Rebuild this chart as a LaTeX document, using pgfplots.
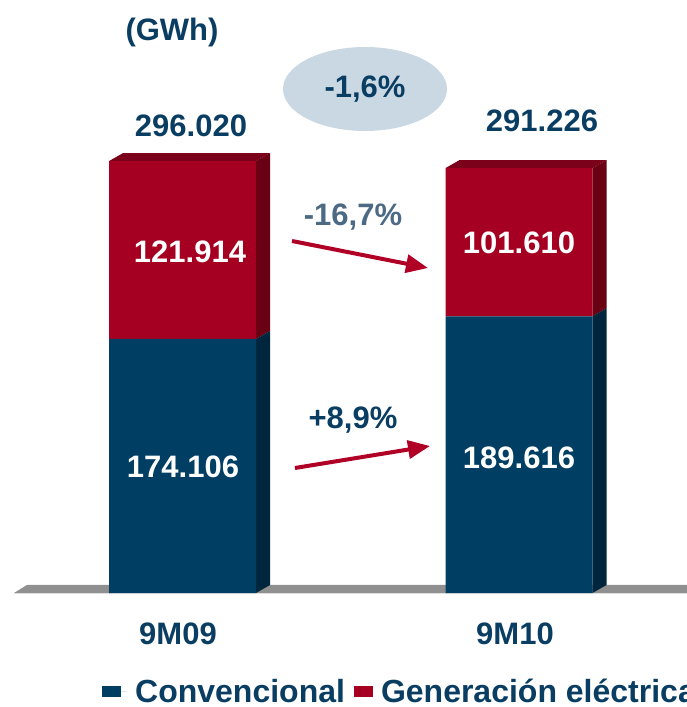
\documentclass[border=0pt]{standalone}
\usepackage{pgfplots}
\pgfplotsset{compat=1.18}
\usetikzlibrary{arrows.meta}
\usepackage{fontspec}
\setmainfont{Liberation Sans}
\definecolor{cblue}{HTML}{003E64}
\definecolor{cblueside}{HTML}{00263E}
\definecolor{cred}{HTML}{A50021}
\definecolor{credside}{HTML}{6A0014}
\definecolor{credtop}{HTML}{7B0019}
\definecolor{ctext}{HTML}{0A3D62}
\definecolor{cgray}{HTML}{4C6A84}
\definecolor{cell}{HTML}{C9D8E2}
\definecolor{carrow}{HTML}{B10026}
\definecolor{cfloor}{HTML}{909090}
\newcommand\bigf{\fontsize{31}{36}\selectfont\bfseries}
\newcommand\legf{\fontsize{32}{37}\selectfont\bfseries}
\begin{document}
\begin{tikzpicture}
\useasboundingbox (0,0) rectangle (686pt,707pt);
% floor
\begin{scope}[x=1pt,y=-1pt,shift={(0pt,707pt)}]
\fill[cfloor] (14,593) -- (27,585) -- (700,585) -- (700,593) -- cycle;
\fill[black!12] (14,593) rectangle (700,594.5);
\end{scope}
\begin{axis}[at={(0pt,0pt)}, anchor=south west, scale only axis,
  width=686pt, height=707pt,
  xmin=-0.54235, xmax=1.49629, ymin=-78.13, ymax=406.44,
  hide axis, clip=false,
  ybar stacked, bar width=147pt,
  legend columns=2,
  legend style={at={(0.1487,0.0215)}, anchor=west, draw=none, fill=none,
    font=\legf, text=ctext, inner sep=0pt,
    nodes={inner sep=0pt},
    /tikz/every odd column/.append style={column sep=8pt},
    /tikz/every even column/.append style={column sep=9pt}},
]
\addplot[fill=cblue, draw=none,
  legend image code/.code={\fill[cblue] (0pt,-5.5pt) rectangle (19pt,5.5pt); \path (0pt,0pt) -- (25pt,0pt);}]
  coordinates {(0,174.106) (1,189.616)};
\addlegendentry{Convencional}
\addplot[fill=cred, draw=none,
  legend image code/.code={\fill[cred] (0pt,-5.5pt) rectangle (19pt,5.5pt);}]
  coordinates {(0,121.914) (1,101.610)};
\addlegendentry{Generación eléctrica}
% 3D faces, bar 9M09
\fill[cblueside] ([xshift=73.5pt]axis cs:0,0) -- ([xshift=73.5pt]axis cs:0,174.106) -- ++(14pt,8pt) -- ([xshift=87.5pt,yshift=8pt]axis cs:0,0) -- cycle;
\fill[credside] ([xshift=73.5pt]axis cs:0,174.106) -- ([xshift=73.5pt]axis cs:0,296.020) -- ++(14pt,8pt) -- ([xshift=87.5pt,yshift=8pt]axis cs:0,174.106) -- cycle;
\fill[credtop] ([xshift=-73.5pt]axis cs:0,296.020) -- ++(14pt,8pt) -- ++(147pt,0pt) -- ++(-14pt,-8pt) -- cycle;
% 3D faces, bar 9M10
\fill[cblueside] ([xshift=73.5pt]axis cs:1,0) -- ([xshift=73.5pt]axis cs:1,189.616) -- ++(14pt,8pt) -- ([xshift=87.5pt,yshift=8pt]axis cs:1,0) -- cycle;
\fill[credside] ([xshift=73.5pt]axis cs:1,189.616) -- ([xshift=73.5pt]axis cs:1,291.226) -- ++(14pt,8pt) -- ([xshift=87.5pt,yshift=8pt]axis cs:1,189.616) -- cycle;
\fill[credtop] ([xshift=-73.5pt]axis cs:1,291.226) -- ++(14pt,8pt) -- ++(147pt,0pt) -- ++(-14pt,-8pt) -- cycle;
\end{axis}
\begin{scope}[x=1pt,y=-1pt,shift={(0pt,707pt)}]
\fill[cell] (365,89) ellipse [x radius=82pt, y radius=42pt];
\node[anchor=base, font=\bigf, text=ctext] at (365,98) {-1,6\%};
\node[anchor=base, font=\bigf, text=ctext] at (172,41) {(GWh)};
\node[anchor=base, font=\bigf, text=ctext] at (191,137) {296.020};
\node[anchor=base, font=\bigf, text=ctext] at (542,132) {291.226};
\node[anchor=base, font=\bigf, text=white] at (190,263) {121.914};
\node[anchor=base, font=\bigf, text=white] at (183,478) {174.106};
\node[anchor=base, font=\bigf, text=white] at (519,254) {101.610};
\node[anchor=base, font=\bigf, text=white] at (519,469) {189.616};
\node[anchor=base, font=\bigf, text=cgray] at (353,226) {-16,7\%};
\node[anchor=base, font=\bigf, text=ctext] at (353,429) {+8,9\%};
\node[anchor=base, font=\bigf, text=ctext] at (178,645) {9M09};
\node[anchor=base, font=\bigf, text=ctext] at (515,645) {9M10};
\draw[carrow, line width=4pt, -{Triangle[length=22pt,width=18pt]}] (292,241) -- (428,268);
\draw[carrow, line width=4pt, -{Triangle[length=22pt,width=18pt]}] (295,468) -- (430,446);
\end{scope}
\end{tikzpicture}
\end{document}
